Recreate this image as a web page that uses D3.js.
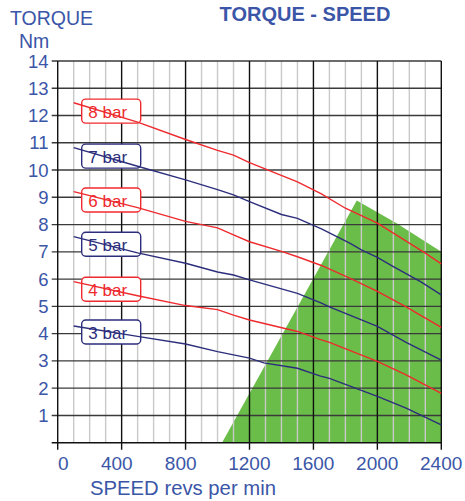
<!DOCTYPE html>
<html>
<head>
<meta charset="utf-8">
<script src="https://cdn.jsdelivr.net/npm/d3@7"></script>
<style>
  body { margin: 0; background: #fff; }
  text { font-family: "Liberation Sans", Arial, sans-serif; }
</style>
</head>
<body>
<div id="chart"></div>
<script>
// torque (Nm) vs speed (rpm) for each supply pressure
const speed8 = [100, 500, 800, 1000, 1100, 1200, 1500, 1650, 1800, 2000, 2300, 2400];
const torque8 = [12.47, 11.76, 11.12, 10.72, 10.55, 10.27, 9.57, 9.13, 8.6, 8.05, 6.95, 6.56];
const speed7 = [100, 500, 800, 1000, 1100, 1200, 1400, 1500, 1650, 1830, 1900, 2000, 2100, 2270, 2400];
const torque7 = [10.82, 10.14, 9.64, 9.28, 9.09, 8.84, 8.37, 8.23, 7.84, 7.31, 7.07, 6.8, 6.46, 5.91, 5.42];
const speed6 = [100, 500, 800, 1000, 1100, 1200, 1400, 1500, 1650, 1830, 2000, 2180, 2400];
const torque6 = [9.21, 8.62, 8.12, 7.88, 7.62, 7.37, 7.02, 6.82, 6.5, 6.03, 5.55, 4.98, 4.23];
const speed5 = [100, 500, 800, 1000, 1100, 1200, 1500, 1650, 1700, 2000, 2180, 2400];
const torque5 = [7.56, 6.96, 6.58, 6.26, 6.15, 5.97, 5.48, 5.12, 4.98, 4.27, 3.68, 3.03];
const speed4 = [100, 500, 800, 1000, 1100, 1200, 1500, 1640, 1700, 2000, 2180, 2400];
const torque4 = [5.91, 5.39, 5.03, 4.88, 4.68, 4.5, 4.08, 3.79, 3.68, 2.98, 2.49, 1.81];
const speed3 = [100, 500, 800, 1000, 1200, 1290, 1500, 1640, 1700, 2000, 2180, 2400];
const torque3 = [4.28, 3.9, 3.62, 3.34, 3.1, 2.93, 2.73, 2.45, 2.36, 1.7, 1.27, 0.65];

const barLabels = ["8 bar", "7 bar", "6 bar", "5 bar", "4 bar", "3 bar"];
const labelTorque = [12.16, 10.51, 8.9, 7.28, 5.63, 4.06];

// green operating zone
const zoneSpeed = [1028, 1871, 2120, 2400, 2400];
const zoneTorque = [0, 8.88, 8.05, 7.0, 0];

const xTicks = [0, 400, 800, 1200, 1600, 2000, 2400];
const yTicks = [1, 2, 3, 4, 5, 6, 7, 8, 9, 10, 11, 12, 13, 14];

const W = 465, H = 501;
const red = "#ee2a2e", navy = "#2c2e7c", txt = "#3b56a7";

const x = d3.scaleLinear().domain([0, 2400]).range([57.7, 441.3]);
const y = d3.scaleLinear().domain([0, 14]).range([442.7, 61]);

const svg = d3.select("#chart").append("svg")
    .attr("width", W).attr("height", H);

const line = d3.line().x(d => x(d[0])).y(d => y(d[1]));

// zone
svg.append("path")
    .attr("d", line(d3.zip(zoneSpeed, zoneTorque)) + "Z")
    .attr("fill", "#6abd48");

// minor vertical grid every 100 rpm
const minor = d3.range(100, 2400, 100).filter(v => v % 400 !== 0);
svg.append("g").selectAll("line").data(minor).enter().append("line")
    .attr("x1", d => x(d)).attr("x2", d => x(d))
    .attr("y1", y(14)).attr("y2", y(0))
    .attr("stroke", "#c9c9c9").attr("stroke-width", 1.4);

// horizontal grid
svg.append("g").selectAll("line").data(yTicks).enter().append("line")
    .attr("x1", x(0) - 6).attr("x2", x(2400))
    .attr("y1", d => y(d)).attr("y2", d => y(d))
    .attr("stroke", "#3a3a3a").attr("stroke-width", 1.4);

// major vertical grid
svg.append("g").selectAll("line").data(xTicks).enter().append("line")
    .attr("x1", d => x(d)).attr("x2", d => x(d))
    .attr("y1", y(14)).attr("y2", y(0) + 7)
    .attr("stroke", "#111").attr("stroke-width", 1.4);

// x axis baseline
svg.append("line")
    .attr("x1", x(0) - 6).attr("x2", x(2400))
    .attr("y1", y(0)).attr("y2", y(0))
    .attr("stroke", "#111").attr("stroke-width", 1.5);

// tick labels
svg.append("g").selectAll("text").data(yTicks).enter().append("text")
    .attr("x", 48.5).attr("y", d => y(d) + 6.5)
    .attr("text-anchor", "end").attr("font-size", 18.5).attr("fill", txt)
    .text(d => d);

svg.append("g").selectAll("text").data(xTicks).enter().append("text")
    .attr("x", d => x(d) + (String(d).length === 4 ? 21 : 11))
    .attr("y", 470)
    .attr("text-anchor", "end").attr("font-size", 19).attr("fill", txt)
    .text(d => d);

// titles
svg.append("text").attr("x", 10).attr("y", 25)
    .attr("font-size", 19.5).attr("fill", txt).text("TORQUE");
svg.append("text").attr("x", 19).attr("y", 48)
    .attr("font-size", 19.5).attr("fill", txt).text("Nm");
svg.append("text").attr("x", 305).attr("y", 21)
    .attr("text-anchor", "middle").attr("font-size", 20).attr("font-weight", "bold")
    .attr("fill", txt).text("TORQUE - SPEED");
svg.append("text").attr("x", 90).attr("y", 495)
    .attr("font-size", 20.3).attr("fill", txt).text("SPEED revs per min");

// label boxes
const colors = barLabels.map((_, i) => i % 2 === 0 ? red : navy);
const lab = svg.append("g").selectAll("g").data(barLabels).enter().append("g");
lab.append("rect")
    .attr("x", 81.7).attr("y", (d, i) => y(labelTorque[i]) - 12)
    .attr("width", 59).attr("height", 24).attr("rx", 4)
    .attr("fill", "#fff").attr("stroke", (d, i) => colors[i]).attr("stroke-width", 1.4);
lab.append("text")
    .attr("x", 88.3).attr("y", (d, i) => y(labelTorque[i]) + 6.5)
    .attr("font-size", 17).attr("fill", (d, i) => colors[i])
    .text(d => d);

// curves
const curves = [
  [speed8, torque8], [speed7, torque7], [speed6, torque6],
  [speed5, torque5], [speed4, torque4], [speed3, torque3]
];
svg.append("g").selectAll("path").data(curves).enter().append("path")
    .attr("d", d => line(d3.zip(d[0], d[1])))
    .attr("fill", "none")
    .attr("stroke", (d, i) => colors[i])
    .attr("stroke-width", 1.4);
</script>
</body>
</html>
